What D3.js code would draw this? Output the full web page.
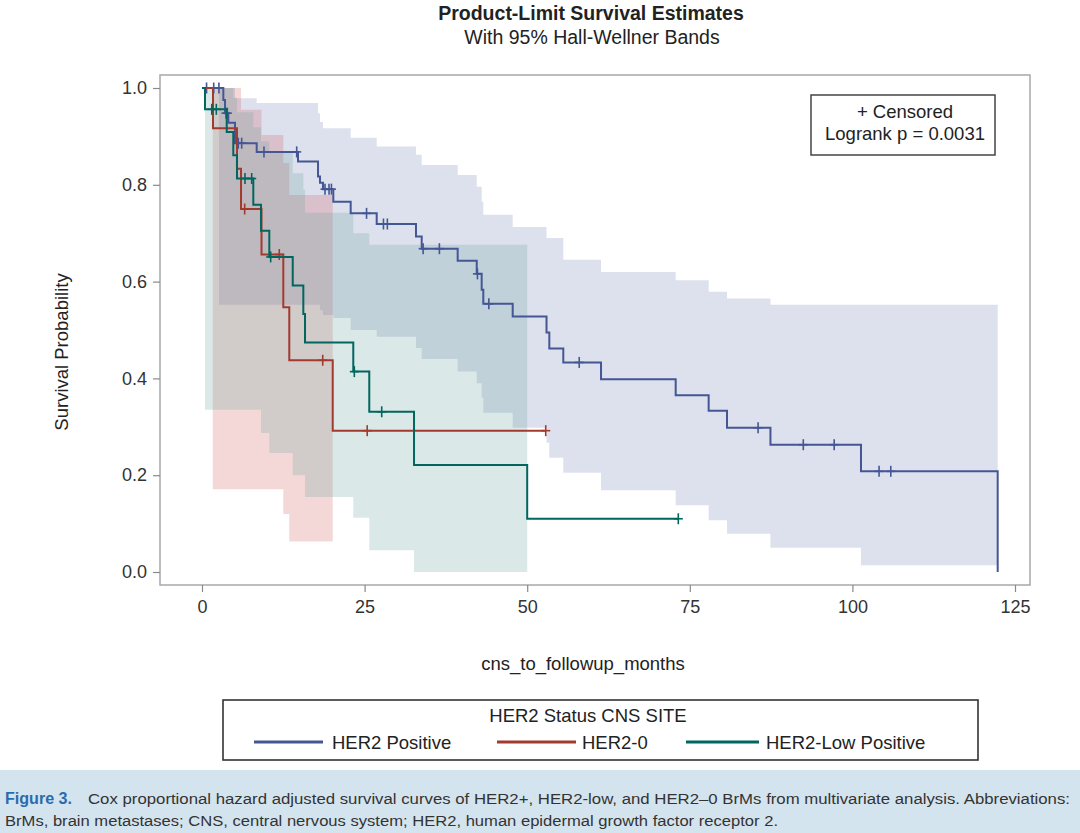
<!DOCTYPE html>
<html><head><meta charset="utf-8">
<script src="https://cdn.jsdelivr.net/npm/d3@7"></script>
<style>body{margin:0;background:#fff}svg{display:block}text{font-family:"Liberation Sans",Arial,sans-serif}</style>
</head><body>
<script>
// ---------- data ----------
const groups = ["HER2 Positive", "HER2-0", "HER2-Low Positive"];
const xTicks = [0, 25, 50, 75, 100, 125];
const yTicks = [0, 0.2, 0.4, 0.6, 0.8, 1.0];

// survival steps [time, survival]
const bluePoints = [[0,1],[3.28,0.975],[3.54,0.948],[4.05,0.928],[5.07,0.886],[8.41,0.868],[14.76,0.848],[17.84,0.817],[18.14,0.804],[18.6,0.791],[20.19,0.765],[22.86,0.741],[26.86,0.719],[32.9,0.693],[33.78,0.668],[39.31,0.643],[42.24,0.616],[43.0,0.583],[43.25,0.554],[47.77,0.528],[52.97,0.495],[53.4,0.462],[55.55,0.433],[61.35,0.398],[72.83,0.365],[77.9,0.333],[80.72,0.298],[87.4,0.263],[101.32,0.208],[122.34,0]];
const blueCensor = [0.7,1.8,2.6,3.69,3.89,5.58,6.1,9.53,14.56,18.91,19.53,19.9,25.3,27.9,28.5,34.0,36.5,42.35,44.1,58.0,85.5,92.45,97.2,104.1,105.9];
const redPoints = [[0,1],[1.69,0.917],[5.38,0.833],[6.0,0.75],[9.15,0.656],[12.5,0.547],[13.42,0.4375],[20.1,0.292],[52.85,0.292]];
const redCensor = [6.56,11.88,18.56,25.4,52.85];
const greenPoints = [[0,1],[0.46,0.956],[3.8,0.909],[4.81,0.861],[5.38,0.813],[7.89,0.759],[9.07,0.705],[10.35,0.651],[13.95,0.592],[15.58,0.533],[15.84,0.474],[23.26,0.414],[25.72,0.331],[32.6,0.221],[50.0,0.11],[73.23,0.11]];
const greenCensor = [1.5,2.2,6.61,7.64,10.56,23.42,27.63,73.23];

// Hall-Wellner bands [time, lower, upper] (step after), with end times
const blueBand = [[2.61,0.552,1.0],[5.07,0.552,0.979],[8.41,0.552,0.969],[17.84,0.552,0.948],[18.14,0.541,0.930],[18.6,0.531,0.917],[20.19,0.525,0.917],[22.86,0.5,0.897],[26.86,0.486,0.879],[32.9,0.463,0.862],[33.78,0.44,0.841],[39.31,0.414,0.82],[42.24,0.39,0.796],[43.0,0.36,0.765],[43.25,0.329,0.738],[47.77,0.298,0.713],[52.97,0.267,0.69],[53.4,0.236,0.69],[55.55,0.205,0.645],[61.35,0.169,0.62],[72.83,0.138,0.603],[77.9,0.107,0.579],[80.72,0.079,0.565],[87.4,0.05,0.552],[101.32,0.014,0.552]];
const blueBandEnd = 122.34;
const redBand = [[1.65,0.171,1.0],[6.0,0.171,0.955],[9.15,0.171,0.903],[12.5,0.12,0.845],[13.42,0.063,0.779]];
const redBandEnd = 20.1;
const greenBand = [[0.46,0.335,1.0],[4.81,0.335,0.98],[5.38,0.335,0.95],[7.89,0.335,0.919],[9.07,0.287,0.89],[10.35,0.246,0.868],[13.95,0.2,0.824],[15.58,0.2,0.79],[15.84,0.155,0.742],[23.26,0.112,0.70],[25.72,0.045,0.676],[32.6,0.0,0.676]];
const greenBandEnd = 50.0;

const lineColors = ["#445694", "#A23A2E", "#01665E"];
const bandColors = ["#6F7EB3", "#D05B5B", "#66A5A0"];

// ---------- chart ----------
const W = 1080, H = 833;
const svg = d3.select("body").append("svg").attr("width", W).attr("height", H);
svg.append("rect").attr("width", W).attr("height", H).attr("fill", "#fff");

const frame = {left: 160, right: 1030, top: 75, bottom: 585};
const x = d3.scaleLinear().domain([0, 125]).range([202, 1015]);
const y = d3.scaleLinear().domain([0, 1]).range([572, 88]);

// titles
svg.append("text").attr("x", 591).attr("y", 20).attr("text-anchor", "middle")
  .attr("font-size", 19.5).attr("font-weight", "bold").attr("fill", "#222").text("Product-Limit Survival Estimates");
svg.append("text").attr("x", 592).attr("y", 44).attr("text-anchor", "middle")
  .attr("font-size", 19.5).attr("fill", "#222").text("With 95% Hall-Wellner Bands");

// bands
const bands = [[blueBand, blueBandEnd], [redBand, redBandEnd], [greenBand, greenBandEnd]];
const area = d3.area().curve(d3.curveStepAfter)
  .x(d => x(d[0])).y0(d => y(d[1])).y1(d => y(d[2]));
const gBands = svg.append("g");
bands.forEach(([b, end], i) => {
  const pts = b.concat([[end, b[b.length - 1][1], b[b.length - 1][2]]]);
  gBands.append("path").attr("d", area(pts)).attr("fill", bandColors[i]).attr("fill-opacity", 0.24);
});

// curves
const line = d3.line().curve(d3.curveStepAfter).x(d => x(d[0])).y(d => y(d[1]));
const curves = [[bluePoints, blueCensor], [redPoints, redCensor], [greenPoints, greenCensor]];
function survAt(pts, t) {
  let s = pts[0][1];
  for (const p of pts) { if (p[0] <= t) s = p[1]; }
  return s;
}
curves.forEach(([pts, cens], i) => {
  svg.append("path").attr("d", line(pts)).attr("fill", "none")
    .attr("stroke", lineColors[i]).attr("stroke-width", 2);
  const g = svg.append("g").attr("stroke", lineColors[i]).attr("stroke-width", 1.6);
  cens.forEach(t => {
    const cx = x(t), cy = y(survAt(pts, t));
    g.append("line").attr("x1", cx).attr("x2", cx).attr("y1", cy - 5.5).attr("y2", cy + 5.5);
    g.append("line").attr("x1", cx - 4.5).attr("x2", cx + 4.5).attr("y1", cy).attr("y2", cy);
  });
});

// frame
svg.append("rect").attr("x", frame.left).attr("y", frame.top)
  .attr("width", frame.right - frame.left).attr("height", frame.bottom - frame.top)
  .attr("fill", "none").attr("stroke", "#a8a8a8").attr("stroke-width", 1.5);

// axes
const xAxis = svg.append("g").attr("transform", `translate(0,${frame.bottom})`)
  .call(d3.axisBottom(x).tickValues(xTicks).tickSize(7).tickPadding(8).tickFormat(d3.format("d")));
const yAxis = svg.append("g").attr("transform", `translate(${frame.left},0)`)
  .call(d3.axisLeft(y).tickValues(yTicks).tickSize(7).tickPadding(6).tickFormat(d3.format(".1f")));
[xAxis, yAxis].forEach(a => {
  a.select(".domain").remove();
  a.selectAll(".tick line").attr("stroke", "#8a8a8a").attr("stroke-width", 1.2);
  a.selectAll(".tick text").attr("font-size", 18).attr("fill", "#333")
    .attr("font-family", '"Liberation Sans",Arial,sans-serif');
});

svg.append("text").attr("x", 583).attr("y", 670).attr("text-anchor", "middle")
  .attr("font-size", 18.5).attr("fill", "#222").text("cns_to_followup_months");
svg.append("text").attr("transform", "translate(68,352) rotate(-90)").attr("text-anchor", "middle")
  .attr("font-size", 18.5).attr("fill", "#222").text("Survival Probability");

// inset box
svg.append("rect").attr("x", 811).attr("y", 95).attr("width", 184).attr("height", 60)
  .attr("fill", "#fff").attr("stroke", "#444").attr("stroke-width", 1.5);
svg.append("text").attr("x", 905).attr("y", 118).attr("text-anchor", "middle")
  .attr("font-size", 18.5).attr("fill", "#222").text("+ Censored");
svg.append("text").attr("x", 905).attr("y", 140).attr("text-anchor", "middle")
  .attr("font-size", 18.5).attr("fill", "#222").text("Logrank p = 0.0031");

// legend
svg.append("rect").attr("x", 223).attr("y", 700).attr("width", 755).attr("height", 60)
  .attr("fill", "#fff").attr("stroke", "#333").attr("stroke-width", 1.6);
svg.append("text").attr("x", 588).attr("y", 722).attr("text-anchor", "middle")
  .attr("font-size", 18.5).attr("fill", "#222").text("HER2 Status CNS SITE");
const legX = [[254, 323, 332], [497, 576, 582], [686, 759, 766]];
groups.forEach((gName, i) => {
  svg.append("line").attr("x1", legX[i][0]).attr("x2", legX[i][1]).attr("y1", 742).attr("y2", 742)
    .attr("stroke", lineColors[i]).attr("stroke-width", 3);
  svg.append("text").attr("x", legX[i][2]).attr("y", 749).attr("font-size", 18.5)
    .attr("fill", "#222").text(gName);
});

// caption
svg.append("rect").attr("x", 0).attr("y", 770).attr("width", W).attr("height", H - 770).attr("fill", "#d4e4ee");
const capFont = '"Liberation Sans Narrow","DejaVu Sans Condensed","Liberation Sans",Arial,sans-serif';
svg.append("text").attr("x", 5).attr("y", 804).attr("font-size", 16).attr("font-weight", "bold")
  .attr("font-family", capFont).attr("fill", "#2a6bb0").attr("textLength", 67).attr("lengthAdjust", "spacingAndGlyphs")
  .text("Figure 3.");
svg.append("text").attr("x", 88).attr("y", 804).attr("font-size", 15.5)
  .attr("font-family", capFont).attr("fill", "#333").attr("textLength", 982).attr("lengthAdjust", "spacingAndGlyphs")
  .text("Cox proportional hazard adjusted survival curves of HER2+, HER2-low, and HER2\u20130 BrMs from multivariate analysis. Abbreviations:");
svg.append("text").attr("x", 5).attr("y", 826).attr("font-size", 15.5)
  .attr("font-family", capFont).attr("fill", "#333").attr("textLength", 773).attr("lengthAdjust", "spacingAndGlyphs")
  .text("BrMs, brain metastases; CNS, central nervous system; HER2, human epidermal growth factor receptor 2.");
</script>
</body></html>
